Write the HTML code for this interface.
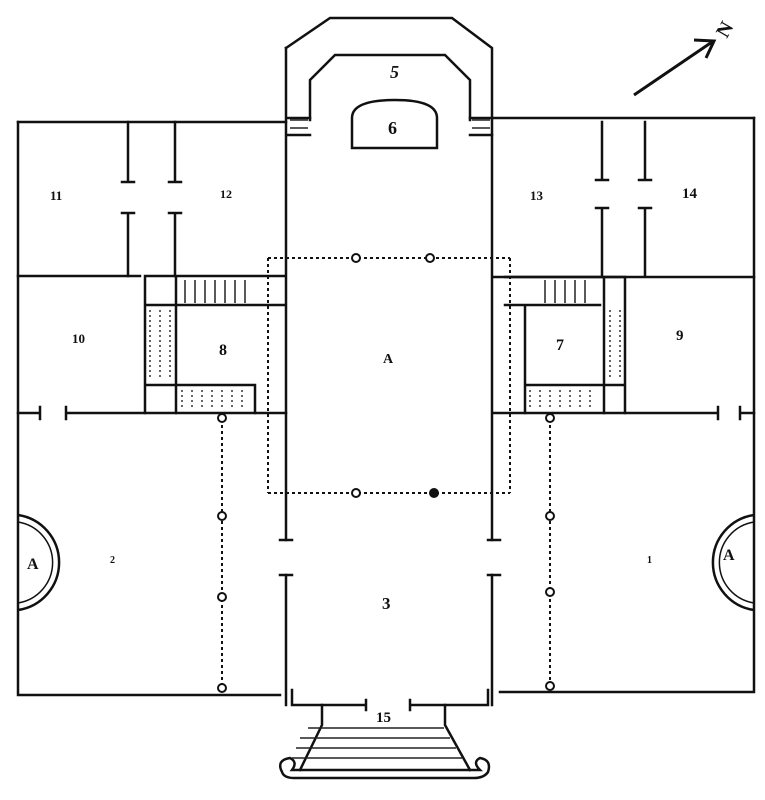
<!DOCTYPE html>
<html><head><style>
html,body{margin:0;padding:0;background:#fff;}
svg{display:block;}
text{font-family:"Liberation Serif",serif;font-weight:bold;fill:#111;}
</style></head><body>
<svg width="765" height="800" viewBox="0 0 765 800" xmlns="http://www.w3.org/2000/svg">
<rect width="765" height="800" fill="#fff"/>
<g stroke="#111" stroke-width="2.5" fill="none" stroke-linecap="square">
<path d="M18 122 H286 M494 118 H754"/>
<path d="M18 122 V695 H280 M500 692 H754 V118"/>
<path d="M286 48 L330 18 H452 L492 48 V540 M492 575 V705"/>
<path d="M286 48 V540 M286 575 V705"/>
<path d="M310 120 V80 L335 55 H445 L470 80 V120"/>
<path d="M352 148 V118 Q352 100 395 100 Q437 100 437 118 V148 Z"/>
<path d="M288 118 H310 M470 118 H492 M288 135 H310 M470 135 H492"/>
<path d="M18 276 H140 M494 277 H754"/>
<path d="M128 122 V182 M122 182 H134 M175 122 V182 M169 182 H181"/>
<path d="M128 213 V276 M122 213 H134 M175 213 V276 M169 213 H181"/>
<path d="M602 122 V180 M596 180 H608 M645 122 V180 M639 180 H651"/>
<path d="M602 208 V276 M596 208 H608 M645 208 V276 M639 208 H651"/>
<path d="M145 276 H285 M145 276 V413 M176 276 V413 M145 305 H285 M176 385 H255 M255 385 V413 M145 385 H176"/>
<path d="M505 277 H625 M625 277 V413 M604 277 V413 M505 305 H600 M525 305 V413 M525 385 H625"/>
<path d="M18 413 H40 M66 413 H286 M40 407 V419 M66 407 V419"/>
<path d="M494 413 H718 M718 407 V419 M740 407 V419 M740 413 H754"/>
<path d="M280 540 H292 M488 540 H500 M280 575 H292 M488 575 H500"/>
<path d="M292 690 V705 H305 M488 690 V705 H475 M305 705 H366 M410 705 H475 M366 700 V710 M410 700 V710"/>
<path d="M322 705 V725 L300 770 M445 705 V725 L470 770"/>
<path d="M282 772 Q276 760 290 758 Q298 762 292 770 H480 Q472 762 480 758 Q492 760 488 772 Q484 778 474 778 H294 Q284 778 282 772"/>
</g>
<g stroke="#222" stroke-width="1.5">
<path d="M300 738 H450 M296 748 H456 M292 758 H462 M308 728 H444"/>
<path d="M185 280 V303 M195 280 V303 M205 280 V303 M215 280 V303 M225 280 V303 M235 280 V303 M245 280 V303"/>
<path d="M545 280 V303 M555 280 V303 M565 280 V303 M575 280 V303 M585 280 V303"/>
<path d="M290 120 H308 M290 128 H308 M472 120 H490 M472 128 H490"/>
</g>
<g stroke="#333" stroke-width="1.5" stroke-dasharray="2 3" fill="none">
<path d="M150 310 V380 M160 310 V380 M170 310 V380"/>
<path d="M610 310 V380 M620 310 V380"/>
<path d="M182 390 V410 M192 390 V410 M202 390 V410 M212 390 V410 M222 390 V410 M232 390 V410 M242 390 V410"/>
<path d="M530 390 V410 M540 390 V410 M550 390 V410 M560 390 V410 M570 390 V410 M580 390 V410 M590 390 V410"/>
</g>
<g stroke="#111" stroke-width="2" stroke-dasharray="3 3" fill="none">
<path d="M268 258 H510 M268 493 H510 M268 258 V493 M510 258 V493"/>
<path d="M222 413 V690 M550 413 V690"/>
</g>
<g stroke="#111" stroke-width="2" fill="#fff">
<circle cx="356" cy="258" r="4"/><circle cx="430" cy="258" r="4"/>
<circle cx="356" cy="493" r="4"/><circle cx="434" cy="493" r="4" fill="#111"/>
<circle cx="222" cy="516" r="4"/><circle cx="222" cy="597" r="4"/><circle cx="222" cy="688" r="4"/>
<circle cx="550" cy="516" r="4"/><circle cx="550" cy="592" r="4"/><circle cx="550" cy="686" r="4"/>
<circle cx="222" cy="418" r="4"/><circle cx="550" cy="418" r="4"/>
</g>
<g stroke="#111" fill="none">
<path d="M18 515 A48 48 0 0 1 18 610" stroke-width="2.5"/>
<path d="M18 522 A41 41 0 0 1 18 603" stroke-width="1.5"/>
<path d="M754 515 A48 48 0 0 0 754 610" stroke-width="2.5"/>
<path d="M754 522 A41 41 0 0 0 754 603" stroke-width="1.5"/>
</g>
<g stroke="#111" stroke-width="3" fill="none">
<path d="M634 95 L712 42 M694 40 L714 41 L706 58"/>
</g>
<text x="718" y="36" font-size="20" transform="rotate(-60 725 30)">N</text>
<text x="390" y="78" font-size="18" font-style="italic">5</text>
<text x="388" y="134" font-size="18">6</text>
<text x="50" y="200" font-size="13">11</text>
<text x="220" y="198" font-size="12">12</text>
<text x="530" y="200" font-size="13">13</text>
<text x="682" y="198" font-size="15">14</text>
<text x="72" y="343" font-size="13">10</text>
<text x="219" y="355" font-size="16">8</text>
<text x="383" y="363" font-size="14">A</text>
<text x="556" y="350" font-size="16">7</text>
<text x="676" y="340" font-size="15">9</text>
<text x="27" y="569" font-size="16">A</text>
<text x="110" y="563" font-size="10">2</text>
<text x="382" y="609" font-size="17">3</text>
<text x="647" y="563" font-size="10">1</text>
<text x="723" y="560" font-size="16">A</text>
<text x="376" y="722" font-size="15">15</text>
</svg>
</body></html>
